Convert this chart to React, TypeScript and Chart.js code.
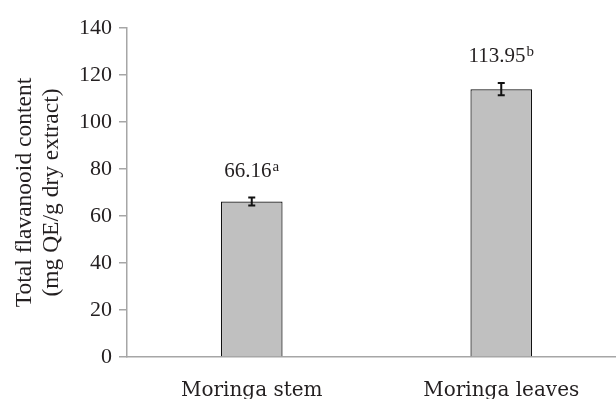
import React, { useEffect, useRef } from 'react';
import { Chart, registerables } from 'chart.js';

Chart.register(...registerables);

const categories = ['Moringa stem', 'Moringa leaves'];
const values = [66.16, 113.95];
const errors = [1.7, 2.6];
const valueLabels = ['66.16', '113.95'];
const letters = ['a', 'b'];
const yTitle = ['Total flavanooid content', '(mg QE/g dry extract)'];
const yMin = 0;
const yMax = 140;
const yStep = 20;

const W = 660;
const H = 420;
const TEXT = '#231f20';
const AXIS = '#a6a6a6';
const SERIF = '"Liberation Serif", serif';

const errorLabelPlugin = {
  id: 'errorLabels',
  afterDatasetsDraw(chart: any) {
    const ctx = chart.ctx;
    const meta = chart.getDatasetMeta(0);
    const y = chart.scales.y;
    meta.data.forEach((bar: any, i: number) => {
      const x = bar.x;
      const top = y.getPixelForValue(values[i] + errors[i]);
      const bot = y.getPixelForValue(values[i] - errors[i]);
      ctx.save();
      ctx.strokeStyle = '#111';
      ctx.lineWidth = 2;
      ctx.beginPath();
      ctx.moveTo(x, top);
      ctx.lineTo(x, bot);
      ctx.moveTo(x - 3.5, top);
      ctx.lineTo(x + 3.5, top);
      ctx.moveTo(x - 3.5, bot);
      ctx.lineTo(x + 3.5, bot);
      ctx.stroke();

      ctx.fillStyle = TEXT;
      ctx.textBaseline = 'alphabetic';
      ctx.textAlign = 'left';
      ctx.font = '21px ' + SERIF;
      const mw = ctx.measureText(valueLabels[i]).width;
      ctx.font = '15px ' + SERIF;
      const sw = ctx.measureText(letters[i]).width;
      const startX = x - (mw + sw + 1) / 2;
      const base = top - 21;
      ctx.font = '21px ' + SERIF;
      ctx.fillText(valueLabels[i], startX, base);
      ctx.font = '15px ' + SERIF;
      ctx.fillText(letters[i], startX + mw + 1, base - 6);
      ctx.restore();
    });
  },
};

export default function App() {
  const ref = useRef<HTMLCanvasElement>(null);

  useEffect(() => {
    let chart: any = null;
    let cancelled = false;
    const build = () => {
      if (cancelled || !ref.current) return;
      chart = new Chart(ref.current, {
        type: 'bar',
        data: {
          labels: categories,
          datasets: [
            {
              data: values,
              backgroundColor: '#c0c0c0',
              borderColor: '#111',
              borderWidth: 1.2,
              barPercentage: 0.247,
              categoryPercentage: 1,
            },
          ],
        },
        options: {
          responsive: false,
          animation: false,
          layout: { padding: { top: 28, right: 34, bottom: 0, left: 0 } },
          plugins: {
            legend: { display: false },
            tooltip: { enabled: false },
          },
          scales: {
            x: {
              offset: true,
              grid: { display: false },
              border: { display: true, color: AXIS, width: 1.5 },
              ticks: {
                color: TEXT,
                padding: 14,
                font: { family: '"DejaVu Serif", serif', size: 20 },
              },
              afterFit(scale: any) {
                scale.height = H - 357;
              },
            },
            y: {
              min: yMin,
              max: yMax,
              grid: {
                drawOnChartArea: false,
                drawTicks: true,
                tickLength: 8,
                color: AXIS,
                lineWidth: 1.5,
              },
              border: { display: true, color: AXIS, width: 1.5 },
              ticks: {
                stepSize: yStep,
                color: TEXT,
                padding: 7,
                font: { family: SERIF, size: 22 },
              },
              title: {
                display: true,
                text: yTitle,
                color: TEXT,
                font: { family: SERIF, size: 23.5, lineHeight: 1.13 },
                padding: { top: 11.5, bottom: 0 },
              },
              afterFit(scale: any) {
                scale.width = 127;
              },
            },
          },
        },
        plugins: [errorLabelPlugin],
      });
    };
    const fonts: any = (document as any).fonts;
    if (fonts && fonts.load) {
      Promise.all([
        fonts.load('22px "Liberation Serif"'),
        fonts.load('20px "DejaVu Serif"'),
      ])
        .catch(() => null)
        .then(build);
    } else {
      build();
    }
    return () => {
      cancelled = true;
      if (chart) chart.destroy();
    };
  }, []);

  return (
    <div
      style={{
        position: 'fixed',
        left: 0,
        top: 0,
        width: 616,
        height: 399,
        overflow: 'hidden',
        background: '#fff',
      }}
    >
      <canvas ref={ref} width={W} height={H} style={{ display: 'block' }} />
    </div>
  );
}
